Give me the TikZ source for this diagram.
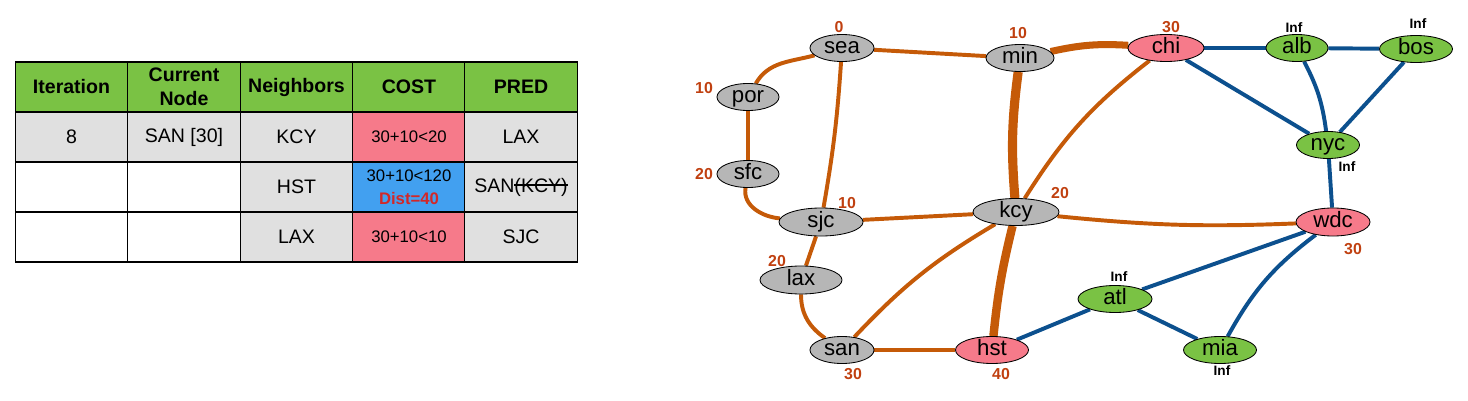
\documentclass[tikz,border=0pt]{standalone}
\usepackage{fontspec}
\setmainfont{Liberation Sans}
\usetikzlibrary{shapes.geometric,backgrounds}

\definecolor{headgreen}{RGB}{122,194,68}
\definecolor{cellgray}{RGB}{224,224,224}
\definecolor{costpink}{RGB}{246,122,138}
\definecolor{costblue}{RGB}{66,160,240}
\definecolor{citygray}{RGB}{182,182,182}
\definecolor{distred}{RGB}{192,64,16}
\definecolor{roadorange}{RGB}{197,90,8}
\definecolor{linkblue}{RGB}{12,80,142}
\definecolor{distdark}{RGB}{210,40,40}

\newcommand\strk[1]{\setbox0\hbox{#1}\rlap{\rule[0.33em]{\wd0}{0.07em}}\box0}

\begin{document}
\begin{tikzpicture}[x=0.025cm,y=-0.025cm,
    cell/.style={draw,line width=0.9pt,minimum width=2.81cm,minimum height=1.25cm,
        inner sep=0pt,align=center,fill=cellgray,font=\fontsize{13.9}{17}\selectfont},
    head/.style={cell,fill=headgreen,font=\bfseries\fontsize{13.9}{17}\selectfont},
    cost/.style={cell,font=\fontsize{11.9}{16}\selectfont},
    city/.style={ellipse,draw,line width=0.6pt,fill=citygray,minimum height=0.675cm,
        inner sep=0pt,text height=0.82em,text depth=0.1em,font=\fontsize{15.8}{18}\selectfont},
    hit/.style={city,fill=costpink},
    far/.style={city,fill=headgreen},
    dist/.style={text=distred,inner sep=0pt,font=\bfseries\fontsize{11.3}{13}\selectfont},
    inf/.style={inner sep=0pt,font=\bfseries\fontsize{9.7}{11}\selectfont},
    road/.style={draw=roadorange,line width=2.8pt},
    link/.style={draw=linkblue,line width=2.8pt}]
\useasboundingbox (0,0) rectangle (1468,401);

% table
\node[head] (h1) at (71.5,87) {Iteration};
\node[head] (h2) at (184,87) {Current\\Node};
\node[head] (h3) at (296.5,87) {Neighbors};
\node[head] (h4) at (409,87) {COST};
\node[head] (h5) at (521,87) {PRED};
\node[cell] (r1a) at (71.5,137) {8};
\node[cell] (r1b) at (184,137) {SAN [30]};
\node[cell] (r1c) at (296.5,137) {KCY};
\node[cost,fill=costpink] (r1d) at (409,137) {30+10<20};
\node[cell] (r1e) at (521,137) {LAX};
\node[cell,fill=white] (r2a) at (71.5,187) {};
\node[cell,fill=white] (r2b) at (184,187) {};
\node[cell] (r2c) at (296.5,187) {HST};
\node[cost,fill=costblue] (r2d) at (409,187) {30+10<120\\\textcolor{distdark}{\bfseries Dist=40}};
\node[cell] (r2e) at (521,187) {SAN\strk{(KCY)}};
\node[cell,fill=white] (r3a) at (71.5,237) {};
\node[cell,fill=white] (r3b) at (184,237) {};
\node[cell] (r3c) at (296.5,237) {LAX};
\node[cost,fill=costpink] (r3d) at (409,237) {30+10<10};
\node[cell] (r3e) at (521,237) {SJC};

% graph
\node[city,minimum width=1.6cm] (sea) at (842,48) {sea};
\node[city,minimum width=1.7cm] (min) at (1020,58) {min};
\node[city,minimum width=1.55cm] (por) at (748,97) {por};
\node[city,minimum width=1.55cm] (sfc) at (748,174) {sfc};
\node[hit,minimum width=1.9cm] (chi) at (1166,48) {chi};
\node[far,minimum width=1.55cm] (alb) at (1297,48) {alb};
\node[far,minimum width=1.825cm] (bos) at (1416,49) {bos};
\node[far,minimum width=1.575cm] (nyc) at (1328,145) {nyc};
\node[city,minimum width=2.1cm,minimum height=0.7cm] (sjc) at (821,222) {sjc};
\node[city,minimum width=2.15cm] (kcy) at (1016,212) {kcy};
\node[city,minimum width=2.05cm,minimum height=0.7cm] (lax) at (801,280) {lax};
\node[city,minimum width=1.6cm] (san) at (842,350) {san};
\node[hit,minimum width=1.825cm] (hst) at (992,350) {hst};
\node[hit,minimum width=1.85cm,minimum height=0.7cm] (wdc) at (1333,222) {wdc};
\node[far,minimum width=1.85cm] (atl) at (1115,299) {atl};
\node[far,minimum width=1.825cm] (mia) at (1220,350) {mia};

\node[dist] (dsea) at (839,27) {0};
\node[dist] (dmin) at (1018,33) {10};
\node[dist] (dpor) at (704,88) {10};
\node[dist] (dsfc) at (704,174) {20};
\node[dist] (dchi) at (1171,27) {30};
\node[inf] (dalb) at (1294,28) {Inf};
\node[inf] (dbos) at (1418,24) {Inf};
\node[inf] (dnyc) at (1347,167) {Inf};
\node[dist] (dsjc) at (847,203) {10};
\node[dist] (dkcy) at (1060,193) {20};
\node[dist] (dlax) at (777,261) {20};
\node[dist] (dsan) at (853,374) {30};
\node[dist] (dhst) at (1001,374) {40};
\node[dist] (dwdc) at (1353,249) {30};
\node[inf] (datl) at (1119,277) {Inf};
\node[inf] (dmia) at (1222,371) {Inf};

\begin{scope}[on background layer]
\draw[road] (sea) -- (min);
\draw[road] (sea) to[out=195,in=60] (por);
\draw[road] (sea) to[bend left=3] (sjc);
\draw[road] (por) -- (sfc);
\draw[road] (sfc) to[out=-100,in=175] (sjc);
\draw[road] (sjc) -- (kcy);
\draw[road] (sjc) -- (lax);
\draw[road] (lax) to[out=-90,in=145] (san);
\draw[road] (san) to[bend left=8] (kcy);
\draw[road] (san) -- (hst);
\draw[road,line width=6.5pt] (min) to[bend right=6] (kcy);
\draw[road,line width=5pt] (min) to[bend left=8] (chi);
\draw[road] (chi) to[bend right=10] (kcy);
\draw[road,line width=6pt] (kcy) to[bend right=4] (hst);
\draw[road] (kcy) to[bend right=4] (wdc);
\draw[link] (chi) -- (alb);
\draw[link] (alb) -- (bos);
\draw[link] (chi) -- (nyc);
\draw[link] (alb) to[bend left=10] (nyc);
\draw[link] (bos) -- (nyc);
\draw[link] (nyc) -- (wdc);
\draw[link] (wdc) -- (atl);
\draw[link] (wdc) to[bend right=12] (mia);
\draw[link] (atl) -- (mia);
\draw[link] (hst) -- (atl);
\end{scope}
\end{tikzpicture}
\end{document}
